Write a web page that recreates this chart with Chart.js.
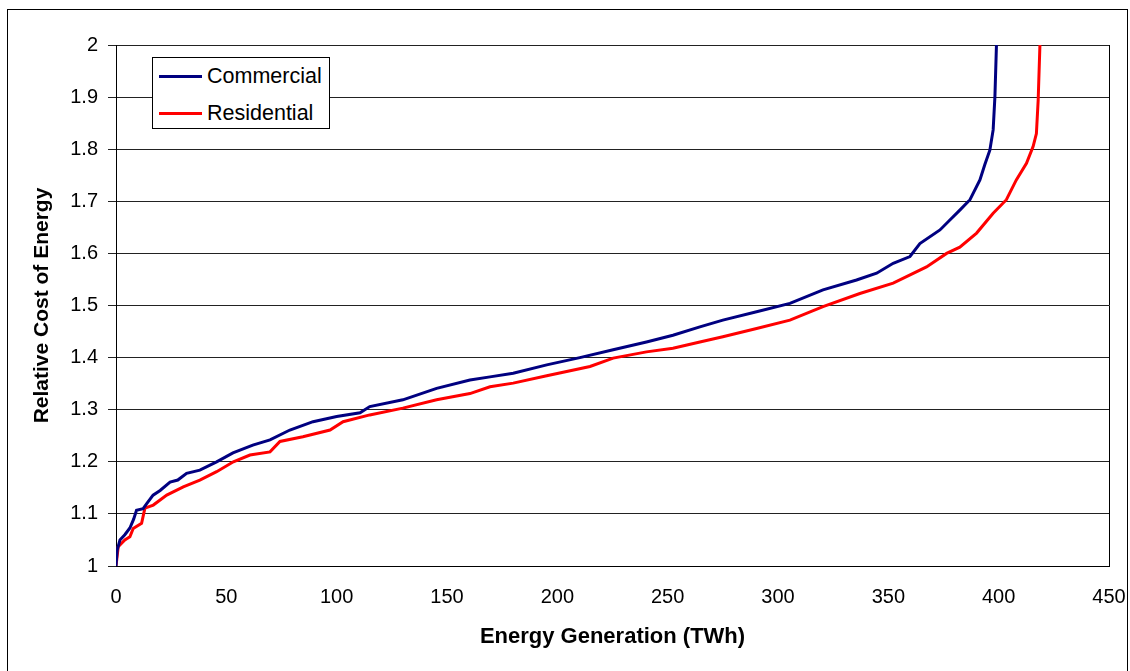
<!DOCTYPE html>
<html>
<head>
<meta charset="utf-8">
<script src="https://cdn.jsdelivr.net/npm/chart.js@4.4.0/dist/chart.umd.min.js"></script>
<style>
  html, body { margin: 0; padding: 0; background: #fff; }
  body { width: 1130px; height: 671px; position: relative; overflow: hidden; font-family: 'Liberation Sans', Arial, sans-serif; }
  #frame { position: absolute; left: 7px; top: 9px; width: 1121px; height: 700px; border: 1px solid #000; box-sizing: border-box; }
  #wrap { position: absolute; left: 0; top: 0; width: 1130px; height: 671px; }
  #legend { position: absolute; left: 152px; top: 57px; width: 178px; height: 72px; border: 1px solid #000; background: #fff; box-sizing: border-box; font-size: 21.5px; color: #000; }
  .item { position: absolute; left: 6px; height: 24px; line-height: 24px; }
  .item span.sw { position: absolute; left: 0; top: 11px; width: 43px; height: 3px; }
  .item span.lb { position: absolute; left: 48px; top: 0; white-space: nowrap; }
</style>
</head>
<body>
<div id="frame"></div>
<div id="wrap"><canvas id="chart" width="1130" height="671"></canvas></div>
<div id="legend">
  <div class="item" style="top:6px"><span class="sw" style="background:#000080"></span><span class="lb">Commercial</span></div>
  <div class="item" style="top:43px"><span class="sw" style="background:#ff0000"></span><span class="lb">Residential</span></div>
</div>
<script>
// --- Data ---
const commercialX = [0, 0.5, 1.8, 4, 6.3, 8, 9.3, 12.3, 14, 16.8, 20, 24.5, 28, 32, 38, 45.6, 53, 62, 69.8, 78.8, 89.3, 100, 110.6, 115, 130, 145.3, 160.4, 169.5, 180, 195.2, 210.2, 225.3, 240.4, 252.4, 264.6, 275, 290.3, 305.4, 320.4, 335.6, 344.7, 352.2, 359.8, 364.3, 373.4, 377.9, 382.4, 387, 391.5, 393.7, 396, 397.5, 398.3, 399];
const commercialY = [1.0, 1.03, 1.05, 1.06, 1.073, 1.09, 1.107, 1.11, 1.12, 1.136, 1.145, 1.161, 1.165, 1.178, 1.184, 1.2, 1.217, 1.232, 1.242, 1.261, 1.277, 1.287, 1.294, 1.306, 1.319, 1.341, 1.357, 1.363, 1.37, 1.386, 1.4, 1.415, 1.43, 1.443, 1.459, 1.472, 1.488, 1.504, 1.53, 1.549, 1.562, 1.581, 1.594, 1.619, 1.645, 1.664, 1.683, 1.703, 1.741, 1.77, 1.798, 1.837, 1.901, 2.0];

const residentialX = [0, 1, 4, 6.3, 7.8, 11.6, 13.1, 16.9, 23, 30.5, 38, 45.6, 53.2, 60.7, 69.8, 74.3, 84.7, 97, 102.9, 115, 130, 145.3, 160.4, 169.5, 180, 195.2, 214.8, 225.3, 240.4, 252.4, 264.6, 275, 290.3, 305.4, 320.4, 337.1, 352.2, 367.3, 376.4, 382.4, 390, 397.5, 403.5, 408, 412.6, 415.6, 417.1, 417.9, 418.7];
const residentialY = [1.0, 1.037, 1.05, 1.056, 1.072, 1.082, 1.111, 1.117, 1.136, 1.152, 1.165, 1.181, 1.2, 1.213, 1.219, 1.239, 1.248, 1.261, 1.277, 1.29, 1.303, 1.319, 1.331, 1.344, 1.351, 1.365, 1.383, 1.399, 1.411, 1.418, 1.43, 1.44, 1.456, 1.472, 1.498, 1.523, 1.543, 1.574, 1.6, 1.612, 1.639, 1.677, 1.703, 1.741, 1.773, 1.805, 1.83, 1.894, 2.0];

const xMin = 0, xMax = 450, xStep = 50;
const yMin = 1, yMax = 2, yStep = 0.1;

const toPoints = (xs, ys) => xs.map((x, i) => ({ x: x, y: ys[i] }));

Chart.defaults.font.family = "'Liberation Sans', Arial, sans-serif";
Chart.defaults.color = '#000';
Chart.defaults.animation = false;

// right-hand border of the plot area
const plotBorder = {
    id: 'plotBorder',
    afterDraw(chart) {
        const { ctx, chartArea } = chart;
        ctx.save();
        ctx.strokeStyle = '#000';
        ctx.lineWidth = 1;
        ctx.beginPath();
        ctx.moveTo(Math.round(chartArea.right) + 0.5, chartArea.top);
        ctx.lineTo(Math.round(chartArea.right) + 0.5, chartArea.bottom);
        ctx.stroke();
        ctx.restore();
    }
};

new Chart(document.getElementById('chart').getContext('2d'), {
    type: 'line',
    data: {
        datasets: [{
            label: 'Commercial',
            data: toPoints(commercialX, commercialY),
            borderColor: '#000080',
            borderWidth: 3,
            pointRadius: 0,
            tension: 0,
            fill: false
        }, {
            label: 'Residential',
            data: toPoints(residentialX, residentialY),
            borderColor: '#ff0000',
            borderWidth: 3,
            pointRadius: 0,
            tension: 0,
            fill: false
        }]
    },
    options: {
        responsive: false,
        layout: { padding: { top: 45, right: 21, left: 0, bottom: 0 } },
        plugins: { legend: { display: false }, tooltip: { enabled: false } },
        scales: {
            x: {
                type: 'linear',
                min: xMin, max: xMax,
                ticks: { stepSize: xStep, font: { size: 20 }, padding: 12, maxRotation: 0 },
                grid: { display: false, drawOnChartArea: false, drawTicks: true, tickLength: 7, color: '#000' },
                border: { color: '#000', width: 1 },
                title: { display: true, text: 'Energy Generation (TWh)', font: { size: 22, weight: 'bold' }, padding: { top: 4, bottom: 21 } },
                afterFit(scale) {
                    scale.height = 105;
                    scale.paddingLeft = 0;
                    scale.paddingRight = 0;
                }
            },
            y: {
                min: yMin, max: yMax,
                ticks: {
                    stepSize: yStep, font: { size: 20 }, padding: 10,
                    callback: v => String(Number(v.toFixed(1)))
                },
                grid: { color: '#222', lineWidth: 1, tickLength: 8, drawTicks: true },
                border: { color: '#000', width: 1 },
                title: { display: true, text: 'Relative Cost of Energy', font: { size: 21, weight: 'bold' }, padding: { top: 30, bottom: 4 } },
                afterFit(scale) { scale.width = 116; }
            }
        }
    },
    plugins: [plotBorder]
});
</script>
</body>
</html>
